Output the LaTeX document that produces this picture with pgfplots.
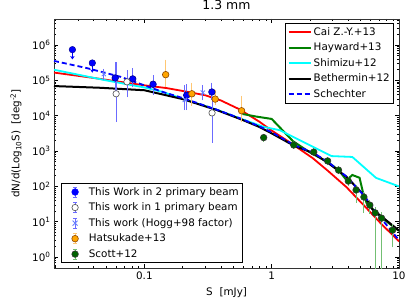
\documentclass[border=0pt]{standalone}
\usepackage{pgfplots}
\pgfplotsset{compat=1.18}
\usepackage{fontspec}
\setmainfont{DejaVu Sans}
\usetikzlibrary{arrows.meta}
\definecolor{ebblue}{rgb}{0.42,0.42,1}
\definecolor{myorange}{rgb}{1,0.647,0}
\definecolor{eborange}{rgb}{1,0.78,0.45}
\definecolor{hgreen}{rgb}{0,0.5,0}
\definecolor{sgreen}{rgb}{0,0.39,0}
\definecolor{ebgreen}{rgb}{0.45,0.75,0.45}
\definecolor{hogg}{rgb}{0.4,0.5,1}
\definecolor{mycyan}{rgb}{0,1,1}
\begin{document}
\begin{tikzpicture}
\path[use as bounding box] (-54bp,-38bp) rectangle (357bp,268bp);
\begin{axis}[
  scale only axis, width=345bp, height=249bp,
  xmode=log, ymode=log,
  xmin=0.0195, xmax=10, ymin=0.49, ymax=5.45e6,
  at={(0,0)}, anchor=south west,
  font=\fontsize{10.4}{12.5}\selectfont,
  xtick={0.01,0.1,1,10}, xticklabels={0.01,0.1,1,10},
  ytick={0.1,1,10,100,1000,10000,100000,1000000,10000000},
  yticklabels={10\textsuperscript{-1},10\textsuperscript{0},10\textsuperscript{1},10\textsuperscript{2},10\textsuperscript{3},10\textsuperscript{4},10\textsuperscript{5},10\textsuperscript{6},10\textsuperscript{7}},
  major tick length=4bp, minor tick length=2bp,
  tick style={black, line width=0.6bp},
  axis line style={line width=0.8bp, black!80},
  title={1.3 mm},
  title style={font=\fontsize{12.5}{14}\selectfont},
  xlabel={S\hspace{7bp}[mJy]},
  ylabel={dN/d(Log\textsubscript{10}S)\hspace{6bp}[deg\textsuperscript{-2}]},
  x label style={at={(axis description cs:0.5,0)}, anchor=center, yshift=-25bp},
  y label style={at={(axis description cs:-0.11,0.5)}, anchor=center},
  legend style={at={(1,1)}, anchor=north east, xshift=-5bp, yshift=-4bp,
    draw=black, line width=0.6bp, font=\fontsize{10.4}{12.5}\selectfont,
    row sep=2.2bp, inner sep=2bp},
  legend cell align=left,
  legend image code/.code={\draw[#1] (0bp,0bp) -- (22bp,0bp);},
]
\addplot[red, line width=1.8bp] table {
0.0195 1.66e5
0.04 1.17e5
0.07 8.7e4
0.1 7.24e4
0.15 6.03e4
0.2 5.01e4
0.3 3.80e4
0.4 2.69e4
0.56 1.51e4
0.8 6.76e3
1.0 3.80e3
1.38 1.78e3
2.1 6.3e2
2.75 2.8e2
3.87 9.5e1
5.3 2.9e1
7.3 8.5
10 2.8
};
\addlegendentry{Cai Z.-Y.+13}
\addplot[hgreen, line width=2bp] table {
0.59 1.12e4
0.75 9.5e3
1.0 8.1e3
1.47 1.9e3
2.0 9.1e2
2.75 4.9e2
3.35 2.9e2
3.87 1.5e2
4.3 2.1e2
4.9 1.75e2
5.2 7.0e1
5.56 3.4e1
7.3 1.3e1
10 5.5
};
\addlegendentry{Hayward+13}
\addplot[mycyan, line width=1.8bp] table {
0.0195 2.0e5
0.05 1.0e5
0.1 6.3e4
0.14 4.68e4
0.2 3.0e4
0.37 1.48e4
0.59 7.9e3
0.87 4.8e3
1.155 3.9e3
2.95 7.2e2
4.3 6.8e2
6.6 1.74e2
10 1.0e2
};
\addlegendentry{Shimizu+12}
\addplot[black, line width=2bp] table {
0.0195 6.9e4
0.045 6.17e4
0.1 5.25e4
0.2 2.95e4
0.37 1.45e4
0.59 7.6e3
0.8 4.8e3
1.0 3.16e3
1.5 1.41e3
2.1 8.9e2
2.75 4.7e2
3.87 1.86e2
5.3 5.7e1
6.2 2.2e1
7.3 1.4e1
10 5.6
};
\addlegendentry{Bethermin+12}
\addplot[blue, line width=1.8bp, dash pattern=on 5bp off 3bp] table {
0.0195 3.55e5
0.035 2.24e5
0.065 1.26e5
0.14 4.68e4
0.2 3.16e4
0.37 1.48e4
0.56 8.5e3
0.8 5.0e3
1.0 3.39e3
1.5 1.48e3
2.1 9.1e2
2.75 5.0e2
3.87 1.9e2
5.3 5.5e1
7.3 1.2e1
10 3.0
};
\addlegendentry{Schechter}
\end{axis}
\begin{axis}[
  scale only axis, width=345bp, height=249bp,
  xmode=log, ymode=log,
  xmin=0.0195, xmax=10, ymin=0.49, ymax=5.45e6,
  at={(0,0)}, anchor=south west, hide axis,
  font=\fontsize{10.4}{12.5}\selectfont,
  legend style={at={(0,0)}, anchor=south west, xshift=7bp, yshift=5bp,
    draw=black, line width=0.6bp, font=\fontsize{10.4}{12.5}\selectfont,
    row sep=2.2bp, inner sep=2bp},
  legend cell align=left,
]
\addplot[forget plot, only marks, mark=*, mark size=3.3bp, mark options={fill=blue, draw=blue!55!black},
  error bars/.cd, y dir=minus, y explicit, error mark=none,
  error bar style={blue, line width=1.2bp, -{Stealth[length=3.5bp,width=4.5bp]}}]
  table[x index=0, y index=1, y error minus index=2] {
0.0272 7.4e5 3.5e5
0.039 3.1e5 1.45e5
};
\addplot[only marks, mark=*, mark size=3.3bp, mark options={fill=blue, draw=blue!55!black, line width=0.6bp},
  error bars/.cd, y dir=both, y explicit,
  error mark options={ebblue, line width=0.8bp, mark size=2.5bp},
  error bar style={ebblue, line width=0.8bp},
  /pgfplots/legend image code/.code={\draw[ebblue, line width=0.8bp] (11.5bp,-5bp)--(11.5bp,5bp) (9.5bp,-5bp)--(13.5bp,-5bp) (9.5bp,5bp)--(13.5bp,5bp); \fill[blue] (11.5bp,0bp) circle (3.3bp); \path (0bp,0bp) (23bp,0bp);}]
  table[x index=0, y index=1, y error plus index=2, y error minus index=3] {
0.059 1.17e5 1.58e5 6.3e4
0.081 1.10e5 7.6e4 3.6e4
0.117 7.76e4 4.0e4 3.1e4
0.215 3.80e4 2.8e4 2.1e4
0.339 4.68e4 2.7e4 1.5e4
};
\addlegendentry{This Work in 2 primary beam}
\addplot[only marks, mark=*, mark size=3.2bp, mark options={fill=white, draw=black!70, line width=0.6bp},
  error bars/.cd, y dir=both, y explicit,
  error mark options={ebblue, line width=0.8bp, mark size=2.5bp},
  error bar style={ebblue, line width=0.8bp},
  /pgfplots/legend image code/.code={\draw[ebblue, line width=0.8bp] (11.5bp,-5bp)--(11.5bp,5bp) (9.5bp,-5bp)--(13.5bp,-5bp) (9.5bp,5bp)--(13.5bp,5bp); \filldraw[fill=white, draw=black!70, line width=0.6bp] (11.5bp,0bp) circle (3.2bp); \path (0bp,0bp) (23bp,0bp);}]
  table[x index=0, y index=1, y error plus index=2, y error minus index=3] {
0.060 4.17e4 2.33e5 3.4e4
0.073 9.1e4 7.1e4 5.2e4
0.34 1.20e4 1.1e4 1.0e4
};
\addlegendentry{This work in 1 primary beam}
\addplot[only marks, mark=x, mark size=3bp, mark options={hogg, line width=0.8bp},
  error bars/.cd, y dir=both, y explicit,
  error mark options={ebblue, line width=0.8bp, mark size=2.5bp},
  error bar style={ebblue, line width=0.8bp},
  /pgfplots/legend image code/.code={\draw[ebblue, line width=0.8bp] (11.5bp,-5bp)--(11.5bp,5bp) (9.5bp,-5bp)--(13.5bp,-5bp) (9.5bp,5bp)--(13.5bp,5bp); \draw[hogg, line width=0.8bp] (9bp,-2.5bp)--(14bp,2.5bp) (9bp,2.5bp)--(14bp,-2.5bp); \path (0bp,0bp) (23bp,0bp);}]
  table[x index=0, y index=1, y error plus index=2, y error minus index=3] {
0.048 1.51e5 3.0e4 3.0e4
0.208 2.8e4 3.4e4 1.1e4
0.288 4.5e4 1.7e4 1.3e4
};
\addlegendentry{This work (Hogg+98 factor)}
\addplot[only marks, mark=*, mark size=3.3bp, mark options={fill=myorange, draw=orange!55!black, line width=0.6bp},
  error bars/.cd, y dir=both, y explicit,
  error mark options={eborange, line width=0.8bp, mark size=2.5bp},
  error bar style={eborange, line width=0.8bp},
  /pgfplots/legend image code/.code={\draw[eborange, line width=0.8bp] (11.5bp,-5bp)--(11.5bp,5bp) (9.5bp,-5bp)--(13.5bp,-5bp) (9.5bp,5bp)--(13.5bp,5bp); \filldraw[fill=myorange, draw=orange!55!black, line width=0.6bp] (11.5bp,0bp) circle (3.3bp); \path (0bp,0bp) (23bp,0bp);}]
  table[x index=0, y index=1, y error plus index=2, y error minus index=3] {
0.147 1.45e5 1.85e5 7.1e4
0.236 4.17e4 3.2e4 1.9e4
0.36 2.95e4 1.5e4 6.6e3
0.58 1.38e4 1.78e4 6.2e3
};
\addlegendentry{Hatsukade+13}
\addplot[only marks, mark=*, mark size=3.3bp, mark options={fill=sgreen, draw=black!80, line width=0.6bp},
  error bars/.cd, y dir=both, y explicit,
  error mark options={ebgreen, line width=0.8bp, mark size=2.5bp},
  error bar style={ebgreen, line width=0.8bp},
  /pgfplots/legend image code/.code={\draw[ebgreen, line width=0.8bp] (11.5bp,-5bp)--(11.5bp,5bp) (9.5bp,-5bp)--(13.5bp,-5bp) (9.5bp,5bp)--(13.5bp,5bp); \filldraw[fill=sgreen, draw=black!80, line width=0.6bp] (11.5bp,0bp) circle (3.3bp); \path (0bp,0bp) (23bp,0bp);}]
  table[x index=0, y index=1, y error plus index=2, y error minus index=3] {
0.865 2400 240 240
1.49 1480 150 150
2.14 933 90 90
2.75 525 55 55
3.35 288 30 30
4.0 141 20 20
4.6 79 12 38
5.3 50 8 29
5.9 29.5 6 10
6.5 17.8 4 17.75
7.3 12.6 3 12.55
8.9 5.75 1.35 3.55
};
\addlegendentry{Scott+12}
\end{axis}
\end{tikzpicture}
\end{document}
